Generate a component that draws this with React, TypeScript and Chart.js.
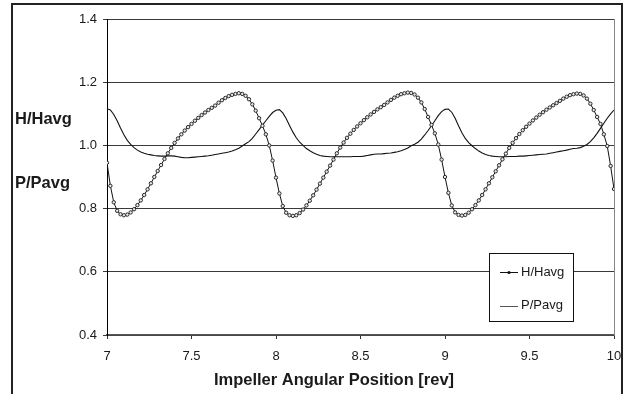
import { useEffect, useRef } from "react";
import { Chart, registerables } from "chart.js";

Chart.register(...registerables);

// Sampling grid of the record: one sample every 0.02 rev starting at 7 rev
const X_START = 7;
const X_STEP = 0.02;

// Head ratio H/Havg, one row block per revolution (7–8, 8–9, 9–10)
const H_HAVG = [
  0.945, 0.872, 0.82, 0.793, 0.782, 0.779, 0.781, 0.788, 0.798, 0.811,
  0.826, 0.843, 0.861, 0.88, 0.9, 0.919, 0.938, 0.957, 0.975, 0.992,
  1.008, 1.022, 1.035, 1.047, 1.058, 1.068, 1.078, 1.087, 1.096, 1.104,
  1.112, 1.119, 1.126, 1.135, 1.143, 1.15, 1.156, 1.16, 1.163, 1.165,
  1.163, 1.157, 1.146, 1.13, 1.11, 1.086, 1.062, 1.035, 1.0, 0.952,

  0.898, 0.848, 0.808, 0.787, 0.779, 0.777, 0.779, 0.786, 0.797, 0.81,
  0.825, 0.842, 0.86, 0.879, 0.898, 0.917, 0.936, 0.955, 0.975, 0.993,
  1.009, 1.024, 1.037, 1.049, 1.06, 1.07, 1.08, 1.089, 1.098, 1.106,
  1.114, 1.121, 1.128, 1.136, 1.144, 1.151, 1.157, 1.162, 1.165, 1.167,
  1.166, 1.161, 1.151, 1.136, 1.115, 1.09, 1.065, 1.038, 1.003, 0.955,

  0.9, 0.85, 0.81, 0.788, 0.78, 0.778, 0.78, 0.787, 0.798, 0.811,
  0.826, 0.843, 0.861, 0.88, 0.899, 0.918, 0.937, 0.956, 0.974, 0.992,
  1.008, 1.023, 1.036, 1.048, 1.059, 1.069, 1.079, 1.088, 1.097, 1.105,
  1.113, 1.12, 1.127, 1.134, 1.141, 1.148, 1.154, 1.159, 1.162, 1.164,
  1.163, 1.158, 1.148, 1.132, 1.112, 1.09, 1.068, 1.035, 0.998, 0.935,
  0.862,
];

// Pressure ratio P/Pavg on the same grid
const P_PAVG = [
  1.116, 1.112, 1.098, 1.078, 1.055, 1.034, 1.016, 1.003, 0.993, 0.985,
  0.979, 0.975, 0.972, 0.97, 0.968, 0.967, 0.966, 0.966, 0.967, 0.967,
  0.966, 0.964, 0.962, 0.961, 0.961, 0.962, 0.963, 0.964, 0.965, 0.966,
  0.967, 0.969, 0.971, 0.973, 0.975, 0.977, 0.979, 0.982, 0.986, 0.991,
  0.998, 1.005, 1.012, 1.022, 1.036, 1.05, 1.064, 1.078, 1.092, 1.104,

  1.111, 1.113, 1.103, 1.085, 1.063, 1.042, 1.024, 1.01, 1.0, 0.99,
  0.983, 0.977, 0.972, 0.968, 0.966, 0.965, 0.964, 0.964, 0.964, 0.964,
  0.964, 0.964, 0.964, 0.965, 0.965, 0.965, 0.966, 0.968, 0.97, 0.972,
  0.973, 0.973, 0.974, 0.975, 0.976, 0.978, 0.98, 0.983, 0.987, 0.992,
  0.999, 1.004, 1.01, 1.02, 1.033, 1.047, 1.062, 1.078, 1.094, 1.107,

  1.114, 1.115, 1.105, 1.086, 1.062, 1.04, 1.022, 1.009, 0.999, 0.99,
  0.982, 0.976, 0.971, 0.968, 0.966, 0.965, 0.964, 0.964, 0.964, 0.965,
  0.965, 0.965, 0.966, 0.966, 0.967, 0.968, 0.969, 0.97, 0.971, 0.972,
  0.973, 0.975, 0.977, 0.979, 0.981, 0.983, 0.985, 0.988, 0.99, 0.991,
  0.993, 0.997, 1.003, 1.012, 1.024, 1.038, 1.054, 1.07, 1.086, 1.1,
  1.112,
];

const SERIES_LABELS = ["H/Havg", "P/Pavg"];
const Y_TICKS = [0.4, 0.6, 0.8, 1.0, 1.2, 1.4];
const X_TICKS = [7, 7.5, 8, 8.5, 9, 9.5, 10];
const Y_TITLES = ["H/Havg", "P/Pavg"];
const X_TITLE = "Impeller Angular Position [rev]";

const FONT = '"Liberation Sans", Arial, Helvetica, sans-serif';
const INK = "#1a1a1a";

const positions = H_HAVG.map((_, i) => Number((X_START + i * X_STEP).toFixed(2)));

const decorations = {
  id: "decorations",
  afterDraw(chart: any) {
    const { ctx, chartArea, scales } = chart;
    const xs = scales.x;
    const ys = scales.y;
    ctx.save();

    // outer frame of the chart object
    ctx.strokeStyle = "#222";
    ctx.lineWidth = 2;
    ctx.strokeRect(12, 4, 610, 430);

    // right edge of the plot area
    ctx.strokeStyle = "#888";
    ctx.lineWidth = 1;
    ctx.beginPath();
    ctx.moveTo(Math.round(chartArea.right) + 0.5, chartArea.top);
    ctx.lineTo(Math.round(chartArea.right) + 0.5, chartArea.bottom);
    ctx.stroke();

    // tick labels
    ctx.fillStyle = INK;
    ctx.font = `13px ${FONT}`;
    ctx.textAlign = "right";
    ctx.textBaseline = "middle";
    Y_TICKS.forEach((v) => {
      ctx.fillText(v.toFixed(1), chartArea.left - 10, ys.getPixelForValue(v));
    });
    ctx.textAlign = "center";
    X_TICKS.forEach((v) => {
      ctx.fillText(String(v), xs.getPixelForValue(v), chartArea.bottom + 21);
    });

    // axis titles
    ctx.font = `bold 16.5px ${FONT}`;
    ctx.textAlign = "left";
    ctx.fillText(Y_TITLES[0], 15, ys.getPixelForValue(1.082));
    ctx.fillText(Y_TITLES[1], 15, ys.getPixelForValue(0.88));
    ctx.textAlign = "center";
    ctx.fillText(X_TITLE, 334, chartArea.bottom + 45);

    // legend box
    const bx = 489.5;
    const by = 253.5;
    ctx.fillStyle = "#fff";
    ctx.fillRect(bx, by, 84, 68);
    ctx.strokeStyle = "#111";
    ctx.lineWidth = 1;
    ctx.strokeRect(bx, by, 84, 68);

    const rows = [272, 305.5];
    rows.forEach((ry, i) => {
      ctx.strokeStyle = i === 0 ? "#111" : "#555";
      ctx.lineWidth = 1;
      ctx.beginPath();
      ctx.moveTo(500, Math.round(ry) + 0.5);
      ctx.lineTo(518, Math.round(ry) + 0.5);
      ctx.stroke();
      if (i === 0) {
        ctx.fillStyle = "#111";
        ctx.beginPath();
        ctx.arc(509, Math.round(ry) + 0.5, 1.6, 0, Math.PI * 2);
        ctx.fill();
      }
      ctx.fillStyle = INK;
      ctx.font = `13px ${FONT}`;
      ctx.textAlign = "left";
      ctx.textBaseline = "middle";
      ctx.fillText(SERIES_LABELS[i], 521, ry);
    });

    ctx.restore();
  },
};

export default function App() {
  const canvasRef = useRef<HTMLCanvasElement | null>(null);

  useEffect(() => {
    const canvas = canvasRef.current;
    if (!canvas) return;
    const chart = new Chart(canvas, {
      type: "line",
      data: {
        datasets: [
          {
            label: SERIES_LABELS[0],
            data: positions.map((x, i) => ({ x, y: H_HAVG[i] })),
            borderColor: "#111",
            borderWidth: 1,
            pointRadius: 1.7,
            pointBorderWidth: 1,
            pointBackgroundColor: "#e8e8e8",
            pointBorderColor: "#2a2a2a",
            tension: 0,
          },
          {
            label: SERIES_LABELS[1],
            data: positions.map((x, i) => ({ x, y: P_PAVG[i] })),
            borderColor: "#111",
            borderWidth: 1.1,
            pointRadius: 0,
            tension: 0,
          },
        ],
      },
      plugins: [decorations],
      options: {
        animation: false,
        responsive: false,
        devicePixelRatio: 1,
        layout: { padding: { top: 19, right: 14, left: 0, bottom: 0 } },
        plugins: {
          legend: { display: false },
          tooltip: { enabled: false },
        },
        scales: {
          x: {
            type: "linear",
            min: 7,
            max: 10,
            ticks: { display: false, stepSize: 0.5 },
            grid: {
              drawOnChartArea: false,
              drawTicks: true,
              tickLength: 4,
              color: "#333",
            },
            border: { color: "#555", width: 1.5 },
            afterFit: (s: any) => {
              s.height = 59;
            },
          },
          y: {
            type: "linear",
            min: 0.4,
            max: 1.4,
            ticks: { display: false, stepSize: 0.2 },
            grid: { color: "#3a3a3a", lineWidth: 1, drawTicks: true, tickLength: 4 },
            border: { color: "#000", width: 1 },
            afterFit: (s: any) => {
              s.width = 107;
            },
          },
        },
      },
    });
    return () => chart.destroy();
  }, []);

  return (
    <div
      style={{
        position: "fixed",
        left: 0,
        top: 0,
        width: 628,
        height: 394,
        background: "#fff",
        overflow: "hidden",
      }}
    >
      <canvas ref={canvasRef} width={628} height={394} style={{ width: 628, height: 394 }} />
    </div>
  );
}
